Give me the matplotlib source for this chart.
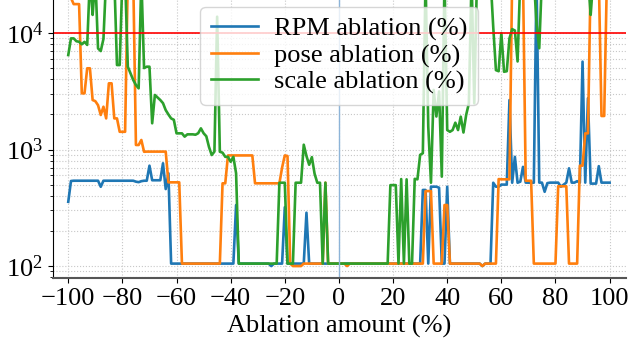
import numpy as np
import matplotlib
matplotlib.use('Agg')
import matplotlib.pyplot as plt

# ablation amount in %, one sample per step
x = np.arange(-100, 101)

# values (log scale); 30000 = goes off the top
rpm = [
    356, 537, 540, 540, 540, 540, 540, 540, 540, 540,        # -100
    540, 540, 479, 540, 540, 540, 540, 540, 540, 540,        # -90
    540, 540, 540, 540, 540, 530, 525, 535, 540, 540,        # -80
    727, 545, 545, 545, 545, 762, 458, 625, 105, 105,        # -70
    105, 105, 105, 105, 105, 105, 105, 105, 105, 105,        # -60
    105, 105, 105, 105, 105, 105, 105, 105, 105, 105,        # -50
    105, 105, 334, 105, 105, 105, 105, 105, 105, 105,        # -40
    105, 105, 105, 105, 105, 100, 105, 105, 105, 105,        # -30
    320, 105, 105, 105, 105, 105, 105, 105, 287, 105,        # -20
    105, 105, 105, 105, 105, 105, 105, 105, 105, 105,        # -10
    105, 105, 105, 105, 105, 105, 105, 105, 105, 105,        # 0
    105, 105, 105, 105, 105, 105, 105, 105, 105, 105,        # 10
    105, 105, 105, 105, 105, 105, 105, 105, 105, 105,        # 20
    105, 450, 450, 105, 480, 480, 480, 470, 105, 105,        # 30
    480, 105, 105, 105, 105, 105, 105, 105, 105, 105,        # 40
    105, 105, 105, 100, 105, 105, 105, 519, 480, 480,        # 50
    500, 500, 500, 2660, 519, 866, 519, 530, 710, 520,       # 60
    519, 519, 519, 30000, 520, 520, 434, 515, 520, 520,      # 70
    520, 520, 480, 500, 520, 690, 520, 520, 535, 520,        # 80
    5680, 520, 2760, 510, 510, 510, 720, 520, 520, 520,      # 90
    520,
]

pose = [
    30000, 20000, 17700, 17700, 17700, 3035, 3035, 4980, 4980, 2660,   # -100
    2600, 2400, 1980, 2330, 1850, 3700, 3700, 1850, 1850, 1420,        # -90
    1420, 1420, 30000, 30000, 30000, 1094, 1094, 1208, 957, 960,       # -80
    960, 960, 960, 960, 960, 960, 960, 523, 523, 523,                  # -70
    523, 523, 105, 105, 105, 105, 105, 105, 105, 105,                  # -60
    105, 105, 105, 105, 105, 105, 105, 513, 513, 890,                  # -50
    890, 890, 890, 890, 890, 890, 890, 890, 890, 513,                  # -40
    513, 513, 513, 513, 513, 513, 513, 513, 513, 700,                  # -30
    890, 880, 105, 100, 100, 100, 100, 105, 105, 105,                  # -20
    105, 105, 105, 105, 105, 520, 105, 105, 105, 105,                  # -10
    105, 105, 105, 100, 105, 105, 105, 105, 105, 105,                  # 0
    105, 105, 105, 105, 105, 105, 105, 105, 105, 105,                  # 10
    105, 105, 105, 105, 105, 105, 105, 105, 105, 105,                  # 20
    105, 105, 440, 440, 440, 105, 105, 105, 105, 334,                  # 30
    334, 105, 105, 105, 105, 105, 105, 105, 105, 105,                  # 40
    105, 105, 105, 100, 105, 105, 105, 105, 105, 558,                  # 50
    555, 555, 555, 555, 30000, 30000, 30000, 30000, 30000, 540,        # 60
    540, 540, 105, 105, 105, 105, 105, 105, 105, 105,                  # 70
    105, 484, 484, 484, 484, 105, 105, 105, 105, 727,                  # 80
    727, 1377, 1377, 30000, 30000, 30000, 30000, 1940, 1940, 30000,    # 90
    30000,
]

scale = [
    6470, 8990, 8990, 8500, 8410, 8000, 8400, 7900, 30000, 14300,      # -100
    30000, 7380, 7000, 8900, 30000, 30000, 30000, 30000, 5310, 5310,   # -90
    30000, 30000, 5140, 4500, 3950, 3580, 3350, 30000, 5000, 5140,     # -80
    5140, 1680, 2940, 2800, 2660, 2500, 2180, 2000, 1850, 1800,        # -70
    1377, 1377, 1377, 1290, 1350, 1350, 1350, 1340, 1380, 1520,        # -60
    1380, 1300, 1050, 897, 960, 13800, 957, 940, 866, 866,             # -50
    785, 866, 625, 105, 105, 105, 105, 105, 105, 105,                  # -40
    105, 105, 105, 105, 105, 105, 105, 105, 519, 519,                  # -30
    519, 105, 105, 105, 519, 519, 519, 1100, 880, 740,                 # -20
    860, 620, 519, 519, 105, 519, 105, 105, 105, 105,                  # -10
    105, 105, 105, 105, 105, 105, 105, 105, 105, 105,                  # 0
    105, 105, 105, 105, 105, 105, 105, 105, 105, 495,                  # 10
    495, 495, 105, 558, 105, 555, 105, 105, 560, 555,                  # 20
    900, 930, 30000, 1570, 519, 3250, 1920, 3150, 585, 30000,          # 30
    1470, 1420, 1470, 1700, 1470, 1915, 1400, 1980, 2490, 30000,       # 40
    2490, 30000, 30000, 30000, 30000, 30000, 30000, 11300, 4800, 4700, # 50
    10000, 4650, 4700, 9000, 10800, 10500, 5700, 30000, 30000, 30000,  # 60
    30000, 30000, 30000, 12000, 7400, 30000, 30000, 30000, 30000, 30000,  # 70
    30000, 30000, 30000, 30000, 30000, 30000, 30000, 30000, 30000, 30000,  # 80
    30000, 30000, 30000, 14300, 30000, 30000, 30000, 30000, 30000, 30000,  # 90
    30000,
]

threshold = 1e4

plt.rcParams['font.family'] = ['Liberation Serif', 'DejaVu Serif']
plt.rcParams['mathtext.fontset'] = 'stix'
plt.rcParams['font.size'] = 19

fig = plt.figure(figsize=(6.29, 3.51), dpi=100)
ax = fig.add_axes([0.084, 0.208, 0.911, 0.792])

ax.plot(x, rpm, color='C0', lw=1.9, label='RPM ablation (%)')
ax.plot(x, pose, color='C1', lw=1.9, label='pose ablation (%)')
ax.plot(x, scale, color='C2', lw=1.9, label='scale ablation (%)')

ax.axhline(threshold, color='red', lw=1.2)
ax.axvline(0, color='#8db4d8', lw=1.0)

ax.set_yscale('log')
ax.set_xlim(-105.7, 106)
ax.set_ylim(79, 19200)
ax.set_xticks(np.arange(-100, 101, 20))

ax.set_axisbelow(True)
ax.grid(which='major', ls=':', color='#c8c8c8', lw=0.8)
ax.grid(which='minor', axis='y', ls=':', color='#c8c8c8', lw=0.8)

ax.spines['top'].set_visible(False)
ax.spines['right'].set_visible(False)
ax.spines['bottom'].set_color('#555555')
ax.spines['bottom'].set_linewidth(1.5)

ax.set_xlabel('Ablation amount (%)')

ax.legend(loc='upper center', borderaxespad=0.25, handlelength=1.8,
          handletextpad=0.6, labelspacing=0.1, framealpha=0.8)

fig.savefig('out.png', dpi=100)
